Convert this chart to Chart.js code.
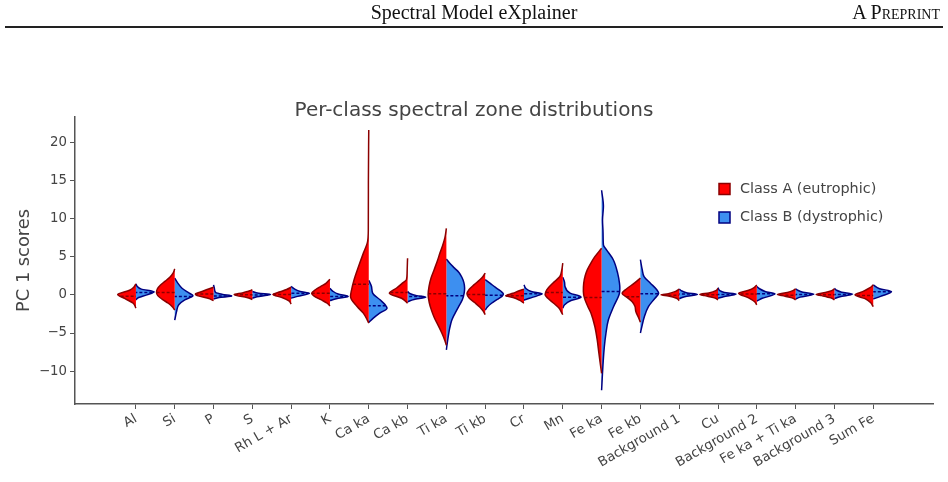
<!DOCTYPE html>
<html>
<head>
<meta charset="utf-8">
<script src="https://cdn.jsdelivr.net/npm/chart.js@4.4.0/dist/chart.umd.min.js"></script>
<style>
  body { margin: 0; background: #fff; }
  #page { position: relative; width: 948px; height: 482px; overflow: hidden; }
  #chart { position: absolute; left: 0; top: 0; }
  .hdr { position: absolute; top: 1px; font: 20px "Liberation Serif", serif; color: #111; line-height: 23px; }
  #hdrTitle { left: 0; width: 948px; text-align: center; }
  #hdrRight { right: 8px; font-variant: small-caps; }
  #rule { position: absolute; left: 5px; top: 26px; width: 938px; height: 1.5px; background: #222; }
</style>
</head>
<body>
<div id="page">
  <canvas id="chart" width="948" height="482"></canvas>
  <div class="hdr" id="hdrTitle">Spectral Model eXplainer</div>
  <div class="hdr" id="hdrRight">A Preprint</div>
  <div id="rule"></div>
</div>
<script>
const categories = ['Al', 'Si', 'P', 'S', 'Rh L + Ar', 'K', 'Ca ka', 'Ca kb', 'Ti ka', 'Ti kb',
  'Cr', 'Mn', 'Fe ka', 'Fe kb', 'Background 1', 'Cu', 'Background 2', 'Fe ka + Ti ka', 'Background 3', 'Sum Fe'];
const yTicks = [-10, -5, 0, 5, 10, 15, 20];
const classLabels = ['Class A (eutrophic)', 'Class B (dystrophic)'];

// mean PC1 score of each class per zone (dashed lines)
const meanA = [-0.17, 0.3, 0.1, 0.0, 0.04, 0.22, 1.4, 0.3, 0.13, 0.05, -0.13, 0.3, -0.35, -0.25, -0.05, 0.0, 0.1, -0.05, 0.0, -0.1];
const meanB = [0.3, -0.2, -0.15, -0.03, 0.2, -0.22, -1.44, -0.22, -0.13, -0.05, 0.13, -0.3, 0.44, 0.13, 0.1, 0.05, 0.13, 0.05, 0.05, 0.4];

// density profile of each half violin: [score, relative density]
const densityA = [
  [[-1.75,0],[-1.1,0.15],[-0.5,0.6],[0.05,1],[0.6,0.35],[1.0,0.12],[1.45,0]],
  [[-2.0,0],[-1.6,0.12],[-1.1,0.35],[-0.6,0.68],[-0.1,0.93],[0.35,1],[0.8,0.95],[1.3,0.78],[1.8,0.52],[2.3,0.27],[2.8,0.1],[3.4,0]],
  [[-0.75,0],[-0.45,0.3],[-0.1,0.9],[0.1,1],[0.35,0.75],[0.7,0.35],[1.0,0]],
  [[-0.6,0],[-0.35,0.3],[-0.1,0.85],[0.05,1],[0.25,0.55],[0.45,0.25],[0.66,0]],
  [[-1.2,0],[-0.8,0.12],[-0.35,0.5],[0.05,1],[0.4,0.6],[0.7,0.25],[1.0,0]],
  [[-1.45,0],[-1.1,0.15],[-0.75,0.4],[-0.3,0.78],[0.22,1],[0.7,0.78],[1.1,0.5],[1.5,0.22],[2.05,0]],
  [[-3.7,0],[-3.3,0.08],[-2.4,0.3],[-1.5,0.65],[-0.2,1],[0.45,0.96],[2.0,0.8],[3.7,0.56],[5.5,0.29],[6.8,0.08],[8.5,0.025],[15,0.02],[21.6,0]],
  [[-1.1,0],[-0.87,0.1],[-0.45,0.33],[0.2,1],[0.9,0.6],[1.5,0.3],[2.0,0.06],[3.0,0.025],[4.8,0]],
  [[-6.6,0],[-6.0,0.08],[-5.0,0.25],[-4.0,0.45],[-3.0,0.66],[-2.0,0.82],[-1.0,0.94],[0,1],[1.1,0.95],[2.2,0.84],[3.3,0.67],[4.4,0.5],[5.5,0.35],[6.5,0.2],[7.5,0.08],[8.7,0]],
  [[-2.6,0],[-2.1,0.12],[-1.6,0.3],[-1.0,0.58],[-0.4,0.88],[0.13,1],[0.7,0.88],[1.3,0.62],[1.9,0.33],[2.4,0.12],[2.85,0]],
  [[-1.1,0],[-0.7,0.25],[-0.35,0.6],[-0.13,1],[0.2,0.6],[0.5,0.3],[0.75,0]],
  [[-2.6,0],[-2.4,0.05],[-1.75,0.2],[-1.1,0.5],[-0.44,0.82],[0,0.97],[0.66,0.88],[1.53,0.55],[2.4,0.16],[3.2,0.06],[4.15,0]],
  [[-10.3,0],[-9.4,0.05],[-7.6,0.15],[-5.9,0.24],[-4.15,0.37],[-2.4,0.58],[-1.4,0.78],[-0.5,0.93],[0.44,1],[1.53,0.98],[2.5,0.9],[3.3,0.78],[4.2,0.58],[5.0,0.37],[5.6,0.17],[6.1,0]],
  [[-3.6,0],[-3.0,0.1],[-2.2,0.25],[-1.5,0.3],[-0.9,0.45],[-0.4,0.7],[0.2,1],[0.8,0.75],[1.5,0.35],[2.2,0]],
  [[-0.75,0],[-0.45,0.15],[-0.15,0.6],[0,1],[0.15,0.6],[0.45,0.2],[0.75,0]],
  [[-0.66,0],[-0.4,0.2],[-0.1,0.75],[0.05,1],[0.25,0.5],[0.55,0.12],[0.87,0]],
  [[-1.3,0],[-0.9,0.12],[-0.4,0.45],[0.22,1],[0.6,0.45],[0.95,0.15],[1.3,0]],
  [[-0.66,0],[-0.4,0.2],[-0.1,0.75],[0.05,1],[0.3,0.45],[0.55,0.15],[0.8,0]],
  [[-0.66,0],[-0.4,0.2],[-0.1,0.7],[0.05,1],[0.3,0.5],[0.55,0.15],[0.8,0]],
  [[-1.55,0],[-1.0,0.15],[-0.5,0.45],[0,1],[0.45,0.55],[0.9,0.2],[1.3,0]]
];
const densityB = [
  [[-0.65,0],[-0.35,0.15],[0.0,0.6],[0.4,1],[0.75,0.3],[1.1,0.08],[1.45,0]],
  [[-3.3,0],[-2.2,0.1],[-1.3,0.22],[-0.65,0.55],[-0.13,1],[0.22,0.8],[0.87,0.4],[1.5,0.18],[2.2,0]],
  [[-0.55,0],[-0.35,0.3],[-0.15,1],[0.05,0.5],[0.3,0.12],[0.8,0.05],[1.3,0]],
  [[-0.45,0],[-0.25,0.25],[-0.05,0.8],[0.05,1],[0.2,0.35],[0.45,0]],
  [[-0.45,0],[-0.2,0.35],[0.2,1],[0.45,0.5],[0.75,0.2],[1.1,0]],
  [[-0.75,0],[-0.5,0.35],[-0.22,1],[0.1,0.45],[0.5,0.15],[0.87,0]],
  [[-3.6,0],[-3.05,0.25],[-2.4,0.6],[-1.75,1],[-1.3,0.9],[-0.65,0.62],[0.2,0.22],[1.1,0.15],[1.9,0]],
  [[-0.9,0],[-0.6,0.35],[-0.3,1],[-0.1,0.5],[0.15,0.15],[0.45,0]],
  [[-7.2,0],[-6.3,0.05],[-5.5,0.1],[-4.4,0.18],[-3.3,0.3],[-2.4,0.48],[-1.5,0.68],[-0.6,0.88],[0.3,0.98],[0.9,1],[1.6,0.96],[2.3,0.85],[2.9,0.7],[3.5,0.45],[4.1,0.2],[4.7,0]],
  [[-2.0,0],[-1.6,0.12],[-1.1,0.35],[-0.6,0.66],[-0.2,0.92],[0.1,1],[0.5,0.85],[1.0,0.55],[1.5,0.28],[2.0,0]],
  [[-0.7,0],[-0.45,0.3],[-0.1,0.75],[0.13,1],[0.45,0.4],[0.8,0.12],[1.3,0]],
  [[-1.75,0],[-1.3,0.1],[-0.74,0.45],[-0.3,1],[0.22,0.4],[1.1,0.12],[1.6,0.1],[2.3,0]],
  [[-12.5,0],[-9.4,0.07],[-6.8,0.15],[-5.0,0.24],[-3.3,0.37],[-1.53,0.66],[0.22,0.98],[0.9,1],[1.53,0.98],[2.84,0.88],[4.6,0.64],[5.9,0.27],[6.55,0.1],[8.1,0.08],[9.8,0.05],[11.6,0.1],[13.7,0]],
  [[-5.0,0],[-4.15,0.08],[-2.84,0.22],[-1.53,0.44],[-0.44,0.8],[0.22,1],[0.66,0.9],[1.53,0.55],[2.4,0.2],[3.3,0.1],[4.6,0]],
  [[-0.5,0],[-0.25,0.3],[0.05,1],[0.25,0.45],[0.5,0.15],[0.75,0]],
  [[-0.45,0],[-0.25,0.3],[0.1,1],[0.3,0.35],[0.55,0.1],[0.95,0]],
  [[-0.8,0],[-0.45,0.3],[0.13,1],[0.45,0.45],[0.8,0.15],[1.1,0]],
  [[-0.55,0],[-0.3,0.25],[0.1,1],[0.35,0.4],[0.6,0.12],[0.8,0]],
  [[-0.5,0],[-0.25,0.3],[0.1,1],[0.35,0.4],[0.6,0.12],[0.85,0]],
  [[-0.55,0],[-0.2,0.4],[0.44,1],[0.8,0.35],[1.3,0]]
];

const HALF = 0.47;   // max half width of a violin, in category units
const FONT = 'DejaVu Sans';
const INK = '#444';
const styleA = { fill: '#ff0000', line: '#8b0000' };
const styleB = { fill: '#3d8ff0', line: '#000080' };

function widthAt(knots, y) {
  for (let k = 1; k < knots.length; k++) {
    const [y0, d0] = knots[k - 1], [y1, d1] = knots[k];
    if (y >= y0 && y <= y1) return d0 + (d1 - d0) * (y - y0) / (y1 - y0);
  }
  return 0;
}

const datasets = [];
categories.forEach((cat, i) => {
  [[densityA[i], meanA[i], -1, styleA], [densityB[i], meanB[i], 1, styleB]].forEach(([knots, m, side, st]) => {
    datasets.push({
      type: 'line',
      indexAxis: 'y',
      data: knots.map(([y, d]) => ({ x: i + side * d * HALF, y: y })),
      fill: { value: i },
      backgroundColor: st.fill,
      borderColor: st.line,
      borderWidth: 1.5,
      pointRadius: 0,
      cubicInterpolationMode: 'monotone',
      order: 2
    });
    datasets.push({
      type: 'line',
      indexAxis: 'y',
      data: [{ x: i + side * widthAt(knots, m) * HALF, y: m }, { x: i, y: m }],
      fill: false,
      borderColor: st.line,
      borderWidth: 1.5,
      borderDash: [3, 2],
      pointRadius: 0,
      order: 1
    });
  });
});

// legend sits inside the plot, top right
const violinLegend = {
  id: 'violinLegend',
  afterDraw(chart) {
    const ctx = chart.ctx;
    const x = chart.chartArea.right - 214;
    const y0 = chart.chartArea.top + 72;
    [styleA, styleB].forEach((st, k) => {
      const y = y0 + k * 28.5;
      ctx.save();
      ctx.fillStyle = st.fill;
      ctx.fillRect(x, y - 5.5, 11, 11);
      ctx.strokeStyle = st.line;
      ctx.lineWidth = 1.5;
      ctx.strokeRect(x, y - 5.5, 11, 11);
      ctx.fillStyle = INK;
      ctx.font = '14.4px "' + FONT + '"';
      ctx.textBaseline = 'middle';
      ctx.fillText(classLabels[k], x + 21, y);
      ctx.restore();
    });
  }
};

new Chart(document.getElementById('chart'), {
  type: 'line',
  data: { datasets: datasets },
  options: {
    responsive: false,
    animation: false,
    events: [],
    indexAxis: 'y',
    layout: { padding: { left: 0, right: 0, top: 0, bottom: 0 } },
    plugins: {
      legend: { display: false },
      tooltip: { enabled: false },
      title: {
        display: true,
        text: 'Per-class spectral zone distributions',
        color: INK,
        font: { family: FONT, size: 20, weight: 'normal', lineHeight: 1.2 },
        padding: { top: 99, bottom: -6 }
      }
    },
    scales: {
      x: {
        type: 'linear',
        min: -1.57,
        max: 20.54,
        afterBuildTicks: s => { s.ticks = categories.map((c, i) => ({ value: i })); },
        afterFit: s => { s.height = 78; },
        ticks: {
          autoSkip: false,
          minRotation: 30,
          maxRotation: 30,
          padding: 2,
          color: INK,
          font: { family: FONT, size: 13.3 },
          callback: v => categories[v]
        },
        grid: { drawOnChartArea: false, tickLength: 5, color: '#555' },
        border: { color: '#555', width: 1.5 }
      },
      y: {
        type: 'linear',
        min: -14.3,
        max: 23.3,
        afterBuildTicks: s => { s.ticks = yTicks.map(v => ({ value: v })); },
        afterFit: s => { s.width = 75; },
        ticks: {
          padding: 3,
          color: INK,
          font: { family: FONT, size: 13.3 },
          callback: v => String(v).replace('-', '\u2212')
        },
        grid: { drawOnChartArea: false, tickLength: 5, color: '#555' },
        border: { color: '#555', width: 1.5 },
        title: {
          display: true,
          text: 'PC 1 scores',
          color: INK,
          font: { family: FONT, size: 17.8 },
          padding: { top: 14, bottom: 0 }
        }
      },
      yRight: {
        type: 'linear',
        position: 'right',
        display: true,
        ticks: { display: false },
        grid: { display: false },
        border: { display: false },
        afterFit: s => { s.width = 15; }
      }
    }
  },
  plugins: [violinLegend]
});
</script>
</body>
</html>
